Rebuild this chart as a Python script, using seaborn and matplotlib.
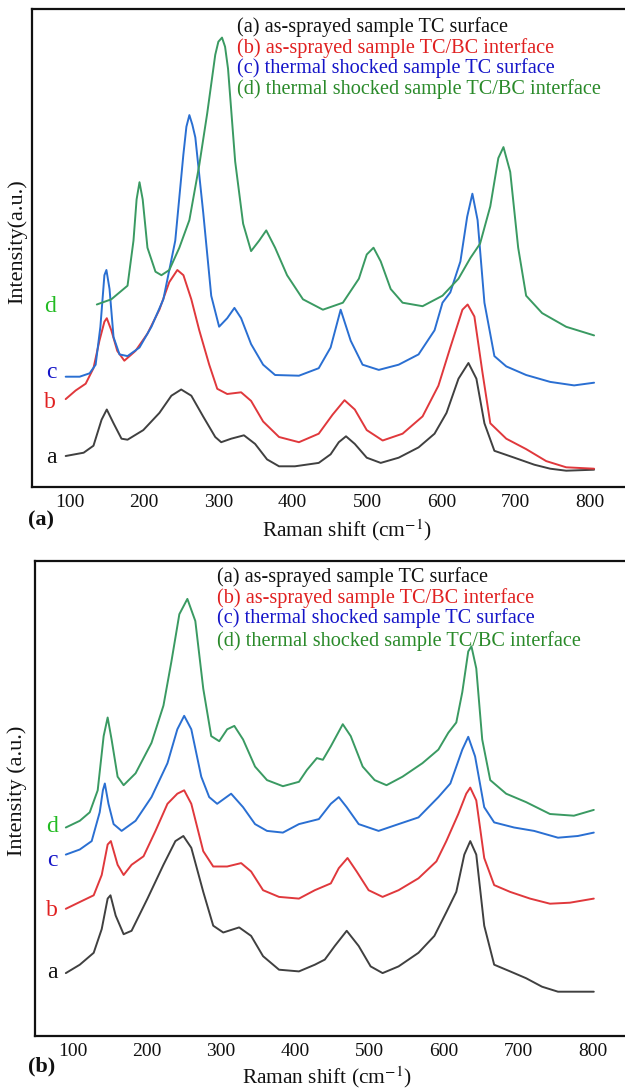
import numpy as np
import pandas as pd
import matplotlib
matplotlib.use("Agg")
import matplotlib.pyplot as plt
import seaborn as sns
from matplotlib.ticker import MultipleLocator

# ---------------- data: panel (a) ----------------
a1_x = [94.6, 118.8, 132, 142.9, 149.9, 159, 169.7, 177.8, 199, 220.7, 236.8, 250, 263.6, 279.7, 295.8, 303.8,
        317.2, 334.4, 349.4, 365.5, 381.6, 403, 435, 451, 462, 471.7, 483.5, 499.6, 518.4, 542.5, 569.3, 590.8,
        606.9, 623, 636.4, 647.1, 657.9, 671.3, 698.2, 725, 746.4, 767.9, 805.4]
a1_y = [30.7, 34, 41, 67, 77.2, 63.4, 48, 47, 56.6, 73.8, 91, 97.2, 91, 70, 49.7, 44.5,
        48, 51.4, 42.8, 27.3, 20.4, 20.4, 23.8, 32.4, 44.5, 50.4, 42.8, 29, 23.8, 29, 39.3, 53,
        73.8, 108, 123.7, 108, 63.4, 35.9, 29, 22, 18, 16, 17]

b1_x = [94.6, 108, 121.5, 132, 140, 146.7, 149.9, 156, 164, 173.5, 188.5, 204.6, 220.7, 234, 244.8, 253, 263.6,
        274.3, 287.7, 298.5, 311.9, 330.6, 344, 360.2, 381.6, 408.4, 435, 453.6, 469.7, 483.5, 499.6, 521,
        547.8, 574.7, 596, 612, 628.3, 635.3, 644.4, 655.1, 665.8, 687.3, 714, 741, 767.9, 805.4]
b1_y = [87.6, 96.2, 103, 118.5, 146, 165, 168.5, 156.4, 135.8, 126, 135.8, 153, 177.1, 204.6, 216.7, 211.5, 187.4,
        156.4, 122, 97.9, 92.7, 94.4, 85.8, 65.2, 49.7, 44.5, 53, 72, 86.5, 77.2, 56.6, 46.2,
        53, 70.3, 101, 139.2, 177, 182.2, 170.2, 115, 63.4, 48, 37.6, 25.6, 19.4, 18]

c1_x = [94.6, 113.4, 126.8, 134.9, 141.3, 146.7, 149.4, 153.6, 159, 167, 177.8, 193.9, 210, 226, 242, 252.9, 257,
        261, 265, 269, 279.7, 290.4, 301, 311.9, 321.6, 330.6, 344, 360.2, 376.3, 408.4, 435, 451, 464.5, 478,
        494, 515.8, 542.5, 569.3, 590.8, 601.5, 612, 625.6, 634.7, 641.7, 648.7, 657.9, 671.3, 687.3, 714,
        746.4, 778.6, 805.4]
c1_y = [110, 110, 113.4, 122, 160, 211.5, 216.7, 197.7, 149.5, 132.3, 130.6, 139.2, 160, 187.4, 246, 332, 360,
        371.6, 362, 349.3, 273.5, 190.9, 160, 168.5, 178.8, 168.5, 142.6, 122, 111.7, 111, 118.5, 139.2, 177, 146,
        122, 116.8, 122, 132.3, 156.4, 184, 194.3, 225.3, 270, 293, 266.6, 184, 130.6, 120.3, 111.7,
        104.8, 101.3, 104]

d1_x = [136.5, 156, 177.8, 185.8, 190, 193.9, 198.2, 204.6, 215.4, 223.4, 234, 247.5, 261, 274.3, 285, 295.8,
        300, 304.9, 309, 313, 322.6, 333.3, 344, 354.8, 364.4, 376.3, 392.4, 413.8, 440.6, 467.5, 489, 499.6,
        508.7, 518.4, 531.8, 547.8, 574.7, 601.5, 623, 639, 652, 665.8, 676.6, 683.5, 692.6, 703.3, 714, 735.5,
        767.9, 805.4]
d1_y = [182.2, 187.4, 201, 246, 287.3, 304.5, 287.3, 239, 215, 211.5, 216.7, 239, 266.6, 321.7, 373.4, 431.9,
        445, 449.1, 440, 418, 325.2, 263, 235.6, 246, 256.3, 239, 211.5, 187.4, 177, 184, 208, 232.2,
        239, 225.3, 197.7, 184, 180.5, 191, 208, 228.7, 243, 280.4, 328.6, 339.6, 314.8, 239, 191, 173.6,
        159.9, 151.3]

# ---------------- data: panel (b) ----------------
a2_x = [90.9, 109.7, 128.4, 139.2, 147.2, 151, 158, 168.7, 179.4, 200.8, 222.3, 238.4, 249.1, 259.8, 275.9,
        289.3, 302.8, 324.2, 340.3, 356.4, 377.9, 404.7, 426.1, 439.5, 452.9, 469, 485.1, 501.2, 517.3,
        538.8, 565.6, 587, 603.1, 616.5, 627.3, 635.3, 643.4, 654.1, 667.5, 689, 710.4, 731.9, 753.4, 801.6]
a2_y = [62.9, 71.3, 83.2, 106.9, 137.4, 140.7, 120.4, 101.8, 105.2, 137.4, 171.2, 194.9, 200, 188.2, 144.1,
        110.3, 103.5, 108.6, 100.1, 79.8, 66.3, 64.6, 71.3, 76.4, 90, 105.2, 90, 69.6, 62.9,
        69.6, 83.2, 100.1, 123.8, 144.1, 181.4, 194.9, 181.4, 110.3, 71.3, 64.6, 57.8, 49.3, 44.3, 44.3]

b2_x = [90.9, 109.7, 128.4, 139.2, 147.2, 151.5, 160.6, 168.7, 179.4, 195.5, 211.6, 227.7, 241, 250.2, 259.8,
        275.9, 289.3, 308.1, 326.9, 340.3, 356.4, 377.9, 404.7, 426.1, 447.6, 458.3, 470.1, 482.4, 498.5,
        517.3, 538.8, 565.6, 589.7, 603.1, 619.2, 629.9, 635.3, 643.4, 654.1, 667.5, 689, 715.8, 742.6,
        769.4, 801.6]
b2_y = [127.2, 134, 140.7, 161, 191.5, 194.9, 171.2, 161, 171.2, 179.7, 205.1, 232.2, 242.3, 245.7, 232.2,
        184.8, 169.5, 169.5, 172.9, 164.5, 145.8, 139.1, 137.4, 145.8, 152.6, 167.8, 178, 164.5, 145.8,
        139.1, 145.8, 157.7, 174.6, 194.9, 222, 242.3, 248.4, 235.6, 178, 150.9, 144.1, 137.4, 132.3,
        133.3, 137.4]

c2_x = [90.9, 109.7, 125.7, 136.5, 140.8, 143.4, 148.3, 155.2, 166, 184.8, 206.2, 227.7, 241, 250.2, 259.8,
        273.2, 283.9, 294.6, 313.4, 329.5, 345.6, 361.7, 383.1, 404.7, 431.5, 447.6, 458.3, 469, 485.1,
        511.9, 538.8, 565.6, 592.4, 608.5, 624.6, 632.6, 641.8, 654.1, 667.5, 694.3, 721.2, 753.4, 780.1,
        801.6]
c2_y = [181.4, 186.5, 194.9, 223.7, 245.7, 252.5, 232.2, 211.9, 205.1, 215.2, 238.9, 272.8, 306.7, 320.2, 306.7,
        259.3, 238.9, 232.2, 242.3, 228.8, 211.9, 205.1, 203.4, 211.9, 216.9, 232.2, 238.9, 228.8, 211.9,
        205.1, 211.9, 218.6, 238.9, 252.5, 286.4, 299.2, 279.6, 228.8, 213.6, 208.5, 205.1, 198.3, 200,
        203.4]

d2_x = [90.9, 109.7, 123.1, 133.8, 141.8, 147.2, 152.5, 160.6, 168.7, 184.8, 206.2, 222.3, 233, 243.7, 254.5,
        265.2, 275.9, 286.6, 297.4, 308.1, 317.7, 329.5, 345.6, 361.7, 383.1, 404.7, 415.4, 428.8, 436.9,
        447.6, 463.7, 474.4, 490.5, 506.6, 522.6, 544.1, 570.9, 592.4, 605.8, 616.5, 624.6, 632.6, 636.9,
        643.4, 651.4, 662.2, 683.6, 710.4, 742.6, 774.8, 801.6]
d2_y = [208.5, 215.2, 223.7, 245.7, 299.9, 318.5, 296.5, 259.3, 250.8, 262.7, 293.1, 330.4, 374.4, 421.8, 437.1,
        415, 347.3, 299.9, 294.8, 306.7, 310.1, 296.5, 269.4, 255.9, 249.8, 254.2, 266, 277.9, 276.2,
        289.7, 311.8, 299.9, 269.4, 255.9, 250.8, 259.3, 272.8, 286.4, 303.3, 313.5, 343.9, 384.6, 389.6,
        367.6, 296.5, 255.9, 242.3, 233.9, 222, 220.3, 226.1]

legend_labels = ["(a) as-sprayed sample TC surface",
                 "(b) as-sprayed sample TC/BC interface",
                 "(c) thermal shocked sample TC surface",
                 "(d) thermal shocked sample TC/BC interface"]
curve_letters = ["a", "b", "c", "d"]
xticks = [100, 200, 300, 400, 500, 600, 700, 800]

line_colors = ["#404040", "#e0383c", "#2a6fd2", "#3a9a62"]
text_colors = ["#111111", "#e02020", "#1515c8", "#2a8a2a"]
letter_colors = ["#111111", "#e02020", "#1515c8", "#22bb22"]

# ---------------- style ----------------
sns.set_style("white")
plt.rcParams['font.family'] = ['Liberation Serif', 'DejaVu Serif']
plt.rcParams['mathtext.fontset'] = 'stix'

fig = plt.figure(figsize=(6.25, 10.91), dpi=100)
W, H = 625, 1091


def make_axes(l, t, b):
    return fig.add_axes([l / W, 1 - b / H, 1 - l / W, (b - t) / H])


ax1 = make_axes(32.3, 9, 486.7)
ax2 = make_axes(35, 560.7, 1036)

panels = [
    dict(ax=ax1, curves=[(a1_x, a1_y), (b1_x, b1_y), (c1_x, c1_y), (d1_x, d1_y)],
         xlim=(49.7, 847), ylim=(0, 477.7), ylabel="Intensity(a.u.)",
         ylab=(-0.026, 0.514), xlab=(0.531, -0.091),
         leg_x=325, leg_y=[460, 439, 419, 398],
         let_x=82, let_y=[29, 84, 114, 180.5], tag="(a)", tag_xy=(41, 520),
         hide_major=[]),
    dict(ax=ax2, curves=[(a2_x, a2_y), (b2_x, b2_y), (c2_x, c2_y), (d2_x, d2_y)],
         xlim=(49.4, 843.6), ylim=(0, 475.3), ylabel="Intensity (a.u.)",
         ylab=(-0.030, 0.515), xlab=(0.495, -0.087),
         leg_x=294, leg_y=[459, 438, 418, 395],
         let_x=80, let_y=[63, 125.5, 176, 210], tag="(b)", tag_xy=(41.5, 1066),
         hide_major=[2, 3, 4, 5, 6, 7]),
]

for p in panels:
    ax = p["ax"]
    for i, (xs, ys) in enumerate(p["curves"]):
        df = pd.DataFrame({"x": xs, "y": ys})
        sns.lineplot(data=df, x="x", y="y", ax=ax, color=line_colors[i], lw=1.4,
                     sort=False, estimator=None)
        ax.text(p["let_x"], p["let_y"][i], curve_letters[i], color=letter_colors[i],
                fontsize=17, ha="right", va="center")
        ax.text(p["leg_x"], p["leg_y"][i], legend_labels[i], color=text_colors[i],
                fontsize=14.6, ha="left", va="center")
    ax.set_xlim(*p["xlim"])
    ax.set_ylim(*p["ylim"])
    ax.set_xticks(xticks)
    ax.xaxis.set_minor_locator(MultipleLocator(50))
    ax.set_yticks([])
    ax.tick_params(axis="x", which="major", direction="in", length=8, width=1.2,
                   labelsize=14, pad=5, color="#111111", labelcolor="#111111")
    ax.tick_params(axis="x", which="minor", direction="in", length=3.5, width=1.2,
                   color="#111111")
    for k in p["hide_major"]:
        ax.xaxis.get_major_ticks()[k].tick1line.set_visible(False)
    for s in ["left", "bottom", "top"]:
        ax.spines[s].set_linewidth(1.6)
        ax.spines[s].set_color("#111111")
    ax.spines["right"].set_visible(False)
    ax.set_ylabel(p["ylabel"], fontsize=16, color="#111111", va="center")
    ax.yaxis.set_label_coords(*p["ylab"])
    ax.set_xlabel("Raman shift (cm$^{-1}$)", fontsize=15.4, color="#111111", va="center")
    ax.xaxis.set_label_coords(*p["xlab"])
    fig.text(p["tag_xy"][0] / W, 1 - p["tag_xy"][1] / H, p["tag"], fontsize=16,
             fontweight="bold", ha="center", va="center", color="#111111")

fig.savefig("out.png", dpi=100)
